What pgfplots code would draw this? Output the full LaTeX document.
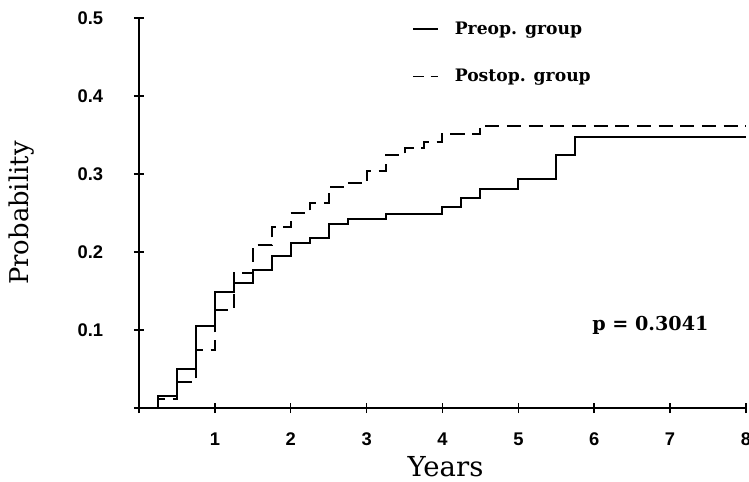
\documentclass[border=0pt]{standalone}
\usepackage{fontspec}
\setmainfont{DejaVu Serif}
\newfontfamily\tickfont{Liberation Sans}
\usepackage{pgfplots}
\pgfplotsset{compat=1.18}

% step values (value holds from x to the next x)
\pgfplotstableread{
x     p
0     0
0.25  0.015
0.5   0.050
0.75  0.105
1.0   0.149
1.25  0.160
1.5   0.177
1.75  0.195
2.0   0.212
2.25  0.218
2.5   0.236
2.75  0.242
3.25  0.249
4.0   0.258
4.25  0.269
4.5   0.281
5.0   0.294
5.5   0.324
5.75  0.348
8.0   0.348
}\preop

\pgfplotstableread{
x     p
0     0
0.25  0.012
0.5   0.033
0.75  0.075
1.0   0.126
1.25  0.173
1.5   0.209
1.75  0.232
2.0   0.250
2.25  0.263
2.5   0.283
2.75  0.288
3.0   0.304
3.25  0.324
3.5   0.333
3.75  0.341
4.0   0.351
4.5   0.362
8.0   0.362
}\postop

\begin{document}
\begin{tikzpicture}
\begin{axis}[
    scale only axis,
    width=364pt, height=234pt,
    xmin=0, xmax=8, ymin=0, ymax=0.5,
    axis x line*=bottom, axis y line*=left,
    axis line style={line width=0.9pt},
    tick style={line width=0.9pt, black},
    tick align=center,
    major tick length=6pt,
    xtick={0,1,...,8},
    xticklabels={,1,2,3,4,5,6,7,8},
    ytick={0,0.1,0.2,0.3,0.4,0.5},
    yticklabels={,0.1,0.2,0.3,0.4,0.5},
    ticklabel style={font=\tickfont\fontsize{11}{13}\bfseries},
    xticklabel style={yshift=-8pt},
    yticklabel style={xshift=-15pt},
    xlabel={Years},
    ylabel={Probability},
    xlabel style={font=\fontsize{16.5}{19}\selectfont, at={(axis description cs:0.505,-0.151)}, anchor=center},
    ylabel style={font=\fontsize{15.5}{18}\selectfont, at={(axis description cs:-0.193,0.5)}, anchor=center},
    legend style={at={(axis cs:3.6,0.5)}, anchor=north west, draw=none, fill=none,
        row sep=15.5pt, font=\fontsize{10.3}{12}\bfseries, inner sep=0pt,
        nodes={inner xsep=9.5pt}},
    legend cell align=left,
]
\addplot[const plot, black, line width=1.2pt,
    legend image code/.code={\draw[black, line width=0.9pt] (0pt,0pt) -- (15pt,0pt);}]
    table[x=x, y=p] {\preop};
\addlegendentry{Preop. group}
\addplot[const plot, black, line width=1.2pt, dash pattern=on 8.5pt off 4.5pt,
    legend image code/.code={\draw[black, line width=0.9pt, dash pattern=on 6.5pt off 4pt] (0pt,0pt) -- (15pt,0pt);}]
    table[x=x, y=p] {\postop};
\addlegendentry{Postop. group}
\node[font=\fontsize{11.5}{13}\bfseries] at (axis cs:6.74,0.106) {p = 0.3041};
% page frame with the reference's margins
\coordinate (bbsw) at (axis description cs:-0.229,-0.187);
\coordinate (bbne) at (axis description cs:1.005,1.046);
\end{axis}
\pgfresetboundingbox
\path (bbsw) rectangle (bbne);
\end{tikzpicture}
\end{document}
